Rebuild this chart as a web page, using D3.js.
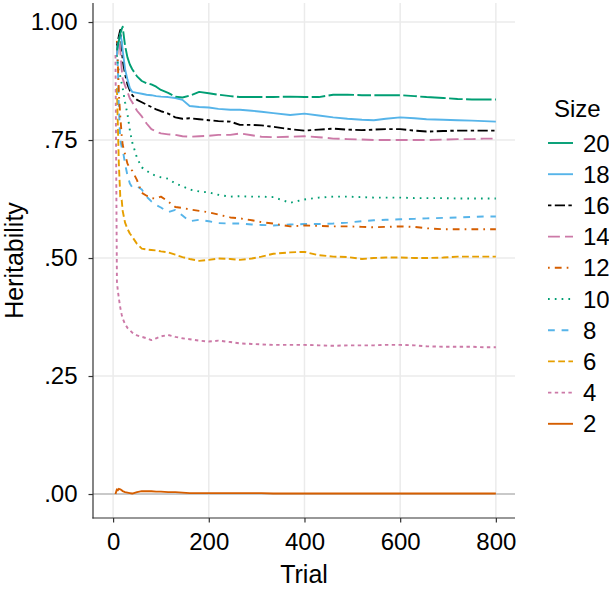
<!DOCTYPE html>
<html>
<head>
<meta charset="utf-8">
<script src="https://cdn.jsdelivr.net/npm/d3@7"></script>
<style>
  html, body { margin: 0; padding: 0; background: #fff; }
  svg { display: block; }
  text { font-family: "Liberation Sans Narrow", "Arial Narrow", "Liberation Sans", Arial, sans-serif; fill: #000; }
</style>
</head>
<body>
<svg id="chart" width="609" height="589"></svg>
<script>
// ---------- data ----------
const trials = [5, 8, 10, 12, 15, 18, 20, 25, 30, 35, 40, 50, 60, 70, 80, 90, 100, 115, 130, 145, 160, 180, 200, 220, 245, 265, 290, 310, 335, 370, 400, 430, 460, 490, 520, 545, 570, 600, 630, 655, 690, 720, 750, 775, 800];

const size20 = [null, 0.94, 0.95, 0.96, 0.975, 0.985, 0.99, 0.95, 0.925, 0.91, 0.90, 0.885, 0.875, 0.87, 0.868, 0.863, 0.856, 0.85, 0.842, 0.84, 0.844, 0.852, 0.849, 0.846, 0.843, 0.841, 0.841, 0.841, 0.841, 0.842, 0.841, 0.841, 0.846, 0.846, 0.845, 0.845, 0.845, 0.845, 0.843, 0.841, 0.839, 0.837, 0.836, 0.836, 0.836];
const size18 = [null, 0.93, 0.95, 0.96, 0.975, 0.96, 0.94, 0.90, 0.878, 0.86, 0.852, 0.85, 0.848, 0.846, 0.845, 0.843, 0.842, 0.841, 0.839, 0.835, 0.822, 0.82, 0.819, 0.816, 0.814, 0.814, 0.812, 0.81, 0.807, 0.803, 0.806, 0.802, 0.798, 0.795, 0.793, 0.792, 0.795, 0.798, 0.796, 0.794, 0.793, 0.792, 0.791, 0.79, 0.789];
const size16 = [null, 0.95, 0.96, 0.97, 0.983, 0.95, 0.92, 0.89, 0.868, 0.855, 0.845, 0.835, 0.83, 0.825, 0.82, 0.815, 0.811, 0.806, 0.798, 0.795, 0.796, 0.794, 0.792, 0.79, 0.789, 0.782, 0.782, 0.781, 0.778, 0.773, 0.77, 0.772, 0.774, 0.772, 0.771, 0.772, 0.773, 0.773, 0.77, 0.768, 0.769, 0.77, 0.77, 0.77, 0.77];
const size14 = [null, 0.93, 0.95, 0.96, 0.94, 0.90, 0.88, 0.865, 0.852, 0.838, 0.83, 0.812, 0.80, 0.785, 0.773, 0.768, 0.764, 0.762, 0.761, 0.758, 0.757, 0.758, 0.759, 0.761, 0.761, 0.764, 0.76, 0.757, 0.756, 0.757, 0.758, 0.756, 0.753, 0.752, 0.751, 0.75, 0.75, 0.75, 0.75, 0.75, 0.751, 0.752, 0.752, 0.753, 0.753];
const size12 = [null, 0.96, 0.91, 0.85, 0.80, 0.76, 0.74, 0.72, 0.70, 0.69, 0.685, 0.665, 0.638, 0.632, 0.627, 0.626, 0.63, 0.62, 0.608, 0.606, 0.603, 0.60, 0.597, 0.592, 0.586, 0.584, 0.58, 0.576, 0.573, 0.567, 0.569, 0.568, 0.567, 0.567, 0.566, 0.565, 0.566, 0.567, 0.566, 0.563, 0.561, 0.561, 0.561, 0.561, 0.561];
const size10 = [null, 0.93, 0.91, 0.895, 0.885, 0.87, 0.86, 0.83, 0.805, 0.771, 0.745, 0.712, 0.692, 0.685, 0.678, 0.674, 0.671, 0.668, 0.658, 0.652, 0.645, 0.641, 0.639, 0.634, 0.63, 0.631, 0.63, 0.63, 0.629, 0.617, 0.624, 0.628, 0.63, 0.63, 0.629, 0.628, 0.628, 0.628, 0.627, 0.627, 0.627, 0.626, 0.626, 0.626, 0.626];
const size8  = [null, 0.95, 0.90, 0.82, 0.75, 0.735, 0.73, 0.70, 0.675, 0.658, 0.65, 0.652, 0.645, 0.63, 0.62, 0.612, 0.607, 0.597, 0.602, 0.59, 0.578, 0.581, 0.578, 0.574, 0.573, 0.573, 0.571, 0.57, 0.569, 0.571, 0.572, 0.572, 0.573, 0.575, 0.578, 0.58, 0.581, 0.582, 0.583, 0.584, 0.585, 0.586, 0.587, 0.588, 0.588];
const size6  = [null, 0.86, 0.78, 0.70, 0.63, 0.623, 0.60, 0.575, 0.562, 0.552, 0.545, 0.53, 0.52, 0.518, 0.517, 0.516, 0.514, 0.512, 0.507, 0.502, 0.498, 0.494, 0.496, 0.499, 0.498, 0.496, 0.499, 0.503, 0.509, 0.512, 0.513, 0.506, 0.503, 0.502, 0.498, 0.50, 0.501, 0.501, 0.50, 0.50, 0.501, 0.503, 0.503, 0.503, 0.503];
const size4  = [0.93, 0.45, 0.43, 0.415, 0.395, 0.38, 0.372, 0.36, 0.352, 0.347, 0.342, 0.336, 0.333, 0.33, 0.326, 0.33, 0.334, 0.337, 0.333, 0.33, 0.328, 0.325, 0.323, 0.325, 0.322, 0.319, 0.318, 0.317, 0.316, 0.316, 0.316, 0.315, 0.314, 0.315, 0.315, 0.315, 0.316, 0.316, 0.315, 0.313, 0.312, 0.312, 0.312, 0.311, 0.311];
const size2  = [0.0, 0.01, 0.008, 0.011, 0.01, 0.008, 0.006, 0.004, 0.003, 0.002, 0.001, 0.004, 0.006, 0.006, 0.006, 0.005, 0.005, 0.004, 0.004, 0.003, 0.002, 0.002, 0.002, 0.002, 0.002, 0.002, 0.002, 0.002, 0.001, 0.001, 0.001, 0.001, 0.001, 0.001, 0.001, 0.001, 0.001, 0.001, 0.001, 0.001, 0.001, 0.001, 0.001, 0.001, 0.001];

const sizeLabels = ["20", "18", "16", "14", "12", "10", "8", "6", "4", "2"];
const seriesValues = [size20, size18, size16, size14, size12, size10, size8, size6, size4, size2];
const seriesColors = ["#009E73", "#56B4E9", "#000000", "#CC79A7", "#D55E00", "#009E73", "#56B4E9", "#E69F00", "#CC79A7", "#D55E00"];
const seriesDash = ["F282", "solid", "2262", "73", "1343", "13", "44", "42", "22", "solid"];

const xTicks = [0, 200, 400, 600, 800];
const xTickLabels = ["0", "200", "400", "600", "800"];
const yTicks = [0, 0.25, 0.5, 0.75, 1];
const yTickLabels = [".00", ".25", ".50", ".75", "1.00"];

// ---------- drawing ----------
const svg = d3.select("#chart");
const L = 93, R = 515, T = 3, B = 518;
const x = d3.scaleLinear().domain([-42, 840]).range([L, R]);
const y = d3.scaleLinear().domain([-0.0508, 1.0403]).range([B, T]);

const unit = 1.7;
function dashArray(code) {
  if (code === "solid") return null;
  return code.split("").map(c => parseInt(c, 16) * unit).join(",");
}

// grid
const grid = svg.append("g");
grid.selectAll("line.gx").data(xTicks).join("line")
  .attr("x1", d => x(d)).attr("x2", d => x(d))
  .attr("y1", T).attr("y2", B)
  .attr("stroke", "#ebebeb").attr("stroke-width", 1.5);
grid.selectAll("line.gy").data(yTicks).join("line")
  .attr("y1", d => y(d)).attr("y2", d => y(d))
  .attr("x1", L).attr("x2", R)
  .attr("stroke", "#ebebeb").attr("stroke-width", 1.5);
// reference line at zero
svg.append("line")
  .attr("x1", L).attr("x2", R).attr("y1", y(0)).attr("y2", y(0))
  .attr("stroke", "#bdbdbd").attr("stroke-width", 1.5);

// lines
const line = d3.line()
  .defined(d => d[1] !== null)
  .x(d => x(d[0])).y(d => y(d[1]));

const order = [9, 8, 7, 6, 5, 4, 3, 2, 1, 0];
order.forEach(i => {
  const pts = trials.map((t, k) => [t, seriesValues[i][k]]);
  svg.append("path")
    .attr("d", line(pts))
    .attr("fill", "none")
    .attr("stroke", seriesColors[i])
    .attr("stroke-width", 1.9)
    .attr("stroke-linejoin", "round")
    .attr("stroke-dasharray", dashArray(seriesDash[i]));
});

// axes
const fs = 24;
const yAxis = svg.append("g").attr("transform", `translate(${L},0)`)
  .call(d3.axisLeft(y).tickValues(yTicks).tickSize(4.5).tickPadding(11)
    .tickFormat((d, i) => yTickLabels[i]));
const xAxis = svg.append("g").attr("transform", `translate(0,${B})`)
  .call(d3.axisBottom(x).tickValues(xTicks).tickSize(4.5).tickPadding(10)
    .tickFormat((d, i) => xTickLabels[i]));
[yAxis, xAxis].forEach(g => {
  g.select(".domain").remove();
  g.selectAll(".tick line").attr("stroke", "#333").attr("stroke-width", 1.2);
  g.selectAll(".tick text").attr("font-size", fs).attr("fill", "#000")
    .style("font-family", '"Liberation Sans Narrow", "Arial Narrow", "Liberation Sans", Arial, sans-serif');
});
svg.append("line").attr("x1", L).attr("x2", L).attr("y1", T).attr("y2", B + 0.6)
  .attr("stroke", "#333").attr("stroke-width", 1.2);
svg.append("line").attr("x1", L - 0.6).attr("x2", R).attr("y1", B).attr("y2", B)
  .attr("stroke", "#333").attr("stroke-width", 1.2);

// axis titles
svg.append("text").attr("x", (L + R) / 2).attr("y", 583)
  .attr("text-anchor", "middle").attr("font-size", 25).text("Trial");
svg.append("text")
  .attr("transform", `translate(23,${(T + B) / 2}) rotate(-90)`)
  .attr("text-anchor", "middle").attr("font-size", 25).text("Heritability");

// legend
const lg = svg.append("g");
lg.append("text").attr("x", 554).attr("y", 116.5).attr("font-size", fs).text("Size");
sizeLabels.forEach((lab, i) => {
  const cy = 143 + i * 31.2;
  lg.append("line").attr("x1", 548).attr("x2", 573).attr("y1", cy).attr("y2", cy)
    .attr("stroke", seriesColors[i]).attr("stroke-width", 1.9)
    .attr("stroke-dasharray", dashArray(seriesDash[i]));
  lg.append("text").attr("x", 583).attr("y", cy + 8.5).attr("font-size", fs).text(lab);
});
</script>
</body>
</html>
